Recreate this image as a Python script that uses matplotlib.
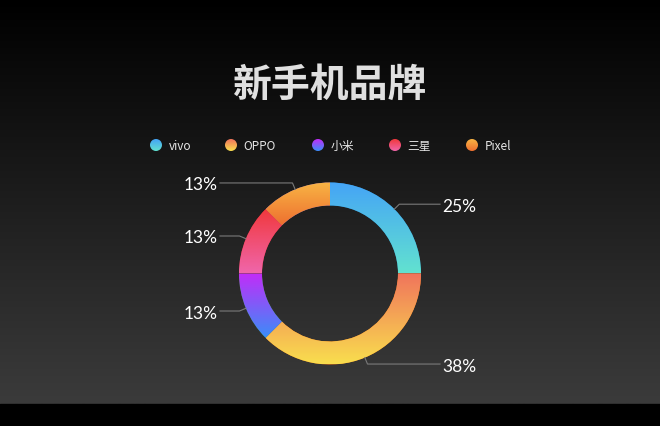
import math
import numpy as np
import matplotlib
matplotlib.use("Agg")
import matplotlib.pyplot as plt
from matplotlib.colors import to_rgb
from matplotlib.patches import Circle

# ---- data ----
title = "新手机品牌"
brands = ["vivo", "OPPO", "小米", "三星", "Pixel"]
values = [2, 3, 1, 1, 1]
grad_top = ["#45a4f6", "#f0745c", "#c22cf8", "#f0383c", "#f8b444"]
grad_bottom = ["#62e2d0", "#f9de4e", "#3a8ef8", "#f066aa", "#ee7030"]

W, H = 660, 427
fig = plt.figure(figsize=(W / 100, H / 100), dpi=100)
ax = fig.add_axes([0, 0, 1, 1])
ax.set_axis_off()

# background gradient
band = 405
bg = np.linspace(0, 0x3b / 255, 256)[:, None, None] * np.ones((1, 1, 3))
ax.imshow(bg, extent=(0, W, band, 0), origin="upper", aspect="auto", zorder=0)
ax.fill_between([0, W], band, H, color="black", zorder=0)


def vgrad(c1, c2, n=128):
    a, b = np.array(to_rgb(c1)), np.array(to_rgb(c2))
    t = np.linspace(0, 1, n)[:, None]
    return (a + (b - a) * t)[:, None, :]


# donut
cx, cy, R = 330, 274.5, 91
width = 23
wedges, _ = ax.pie(values, center=(cx, cy), radius=R, startangle=-90,
                   counterclock=True, wedgeprops=dict(width=width, edgecolor="none"),
                   frame=True)
for w, c1, c2 in zip(wedges, grad_top, grad_bottom):
    w.set_zorder(2)
    ext = w.get_path().get_extents(w.get_patch_transform())
    im = ax.imshow(vgrad(c1, c2), extent=(ext.x0, ext.x1, ext.y1, ext.y0),
                   origin="upper", aspect="auto", zorder=3, interpolation="bilinear")
    im.set_clip_path(w)

# labels with leader lines
total = sum(values)
acc = 0
for v in values:
    mid = (acc + v / 2) / total * 2 * math.pi
    acc += v
    sx, sy = cx + R * math.sin(mid), cy - R * math.cos(mid)
    ex, ey = cx + (R + 7) * math.sin(mid), cy - (R + 7) * math.cos(mid)
    pct = f"{int(v / total * 100 + 0.5)}%"
    if math.sin(mid) >= 0:
        hx, tx, ha = 440, 442, "left"
    else:
        hx, tx, ha = 220, 218, "right"
    ax.plot([sx, ex, hx], [sy, ey, ey], color="#7a7a7a", lw=0.8, zorder=4)
    ax.text(tx, ey + 1.5, pct, ha=ha, va="center", color="white", fontsize=12.5,
            family=["Lato", "DejaVu Sans"], fontweight="normal", zorder=5)

# title
ax.text(330, 85, title, ha="center", va="center", color="#e0e0e0", fontsize=28,
        family=["Noto Sans CJK SC", "DejaVu Sans"], fontweight="bold", zorder=5)

# legend
leg_cx = [156, 231, 318, 395, 472]
for x, name, c1, c2 in zip(leg_cx, brands, grad_top, grad_bottom):
    circ = Circle((x, 146), 6, facecolor="none", edgecolor="none", zorder=4)
    ax.add_patch(circ)
    im = ax.imshow(vgrad(c1, c2), extent=(x - 6, x + 6, 152, 140), origin="upper",
                   aspect="auto", zorder=4, interpolation="bilinear")
    im.set_clip_path(circ)
    ax.text(x + 12.5, 146.8, name, ha="left", va="center", color="#e6e6e6", fontsize=8.5,
            family=["Noto Sans CJK SC", "DejaVu Sans"], zorder=5)

ax.set_xlim(0, W)
ax.set_ylim(H, 0)
ax.set_aspect("auto")
ax.set_axis_off()
fig.savefig("out.png", dpi=100, facecolor="black")
